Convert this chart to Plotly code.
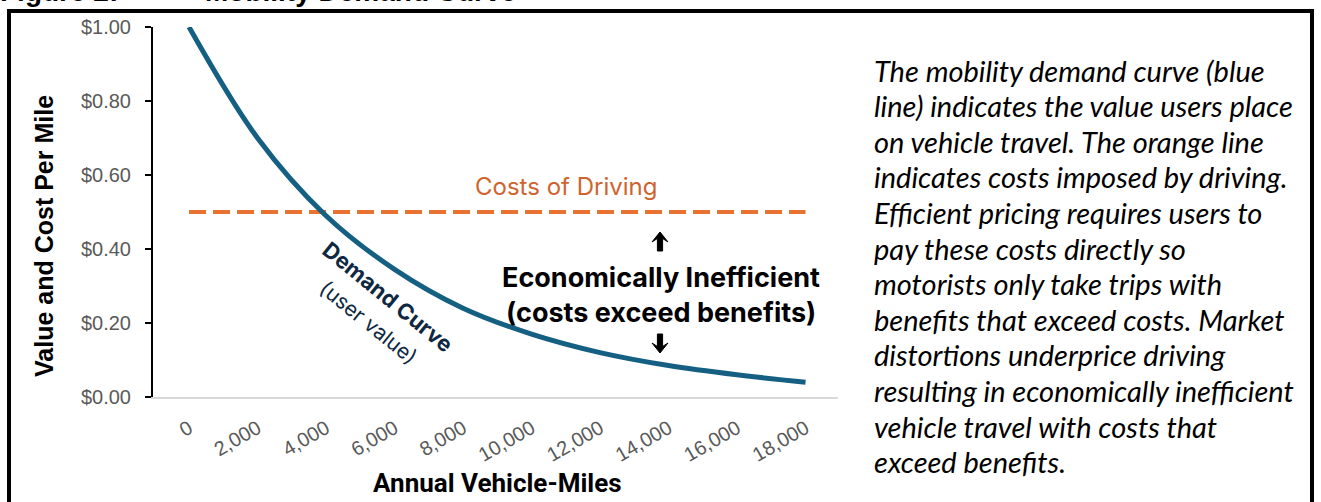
import plotly.graph_objects as go

# ---- data ----
miles = [0, 2000, 4000, 6000, 8000, 10000, 12000, 14000, 16000, 18000]
tick_labels = ["0", "2,000", "4,000", "6,000", "8,000", "10,000", "12,000", "14,000", "16,000", "18,000"]
demand_value = [1.00, 0.70, 0.49, 0.345, 0.24, 0.17, 0.12, 0.085, 0.06, 0.04]
driving_cost = [0.50, 0.50, 0.50, 0.50, 0.50, 0.50, 0.50, 0.50, 0.50, 0.50]
y_ticks = [0.0, 0.2, 0.4, 0.6, 0.8, 1.0]
y_tick_labels = ["$0.00", "$0.20", "$0.40", "$0.60", "$0.80", "$1.00"]
side_text = [
    "The mobility demand curve (blue",
    "line) indicates the value users place",
    "on vehicle travel. The orange line",
    "indicates costs imposed by driving.",
    "Efficient pricing requires users to",
    "pay these costs directly so",
    "motorists only take trips with",
    "benefits that exceed costs. Market",
    "distortions underprice driving",
    "resulting in economically inefficient",
    "vehicle travel with costs that",
    "exceed benefits.",
]

W, H = 1321, 502
L, R, T, B = 153, 483, 27, 105
PW, PH = W - L - R, H - T - B


def px(x):
    return (x - L) / PW


def py(y):
    return (H - B - y) / PH


def arrow_path(cx, tip, direction):
    # bold notched arrow; direction -1 = up, +1 = down
    d = direction
    pts = [(cx, tip), (cx + 8, tip - d * 10), (cx + 2.6, tip - d * 6.5),
           (cx + 2.6, tip - d * 19), (cx - 2.6, tip - d * 19),
           (cx - 2.6, tip - d * 6.5), (cx - 8, tip - d * 10)]
    s = "M " + " L ".join("%.5f,%.5f" % (px(a), py(b)) for a, b in pts) + " Z"
    return s


fig = go.Figure()
fig.add_trace(go.Scatter(
    x=miles, y=driving_cost, mode="lines",
    line=dict(color="#E97132", width=4, dash="17px,7px"),
    hoverinfo="skip", showlegend=False,
))
fig.add_trace(go.Scatter(
    x=miles, y=demand_value, mode="lines",
    line=dict(color="#156082", width=5, shape="spline", smoothing=1),
    hoverinfo="skip", showlegend=False,
))

ann = []
# cropped figure heading at the very top
ann.append(dict(text="<b>Figure 2:</b>", xref="paper", yref="paper", x=px(-2), y=py(-9),
                xanchor="left", yanchor="middle", showarrow=False,
                font=dict(family="Liberation Sans", size=28, color="black")))
ann.append(dict(text="<b>Mobility Demand Curve</b>", xref="paper", yref="paper", x=px(203), y=py(-9),
                xanchor="left", yanchor="middle", showarrow=False,
                font=dict(family="Liberation Sans", size=28, color="black")))
# axis titles
ann.append(dict(text="<b>Value and Cost Per Mile</b>", xref="paper", yref="paper", x=px(44), y=py(236),
                xanchor="center", yanchor="middle", textangle=-90, showarrow=False,
                font=dict(family="Liberation Sans", size=25, color="black")))
ann.append(dict(text="<b>Annual Vehicle-Miles</b>", xref="paper", yref="paper", x=px(497), y=py(483),
                xanchor="center", yanchor="middle", showarrow=False,
                font=dict(family="Roboto", size=26, color="black")))
# in-chart labels
ann.append(dict(text="Costs of Driving", xref="paper", yref="paper", x=px(566), y=py(186),
                xanchor="center", yanchor="middle", showarrow=False,
                font=dict(family="Inter", size=24, color="#CF6330")))
ann.append(dict(text="<b>Demand Curve</b>", xref="paper", yref="paper", x=px(388), y=py(297),
                xanchor="center", yanchor="middle", textangle=39, showarrow=False,
                font=dict(family="Inter", size=22, color="#0E2841")))
ann.append(dict(text="(user value)", xref="paper", yref="paper", x=px(369), y=py(322),
                xanchor="center", yanchor="middle", textangle=39, showarrow=False,
                font=dict(family="Inter", size=21, color="#0E2841")))
ann.append(dict(text="<b>Economically Inefficient</b>", xref="paper", yref="paper", x=px(661), y=py(277),
                xanchor="center", yanchor="middle", showarrow=False,
                font=dict(family="Inter", size=27, color="black")))
ann.append(dict(text="<b>(costs exceed benefits)</b>", xref="paper", yref="paper", x=px(661), y=py(312),
                xanchor="center", yanchor="middle", showarrow=False,
                font=dict(family="Inter", size=27, color="black")))
# side description
for i, line in enumerate(side_text):
    ann.append(dict(text="<i>" + line + "</i>", xref="paper", yref="paper", x=px(872), y=py(70 + 35.6 * i),
                    xanchor="left", yanchor="middle", showarrow=False,
                    font=dict(family="Lato", size=29, color="black")))

shapes = [
    dict(type="rect", xref="paper", yref="paper",
         x0=px(9), x1=px(1312), y0=py(520), y1=py(11),
         line=dict(color="black", width=4), fillcolor="rgba(0,0,0,0)", layer="above"),
    dict(type="path", xref="paper", yref="paper", path=arrow_path(660, 232, -1),
         fillcolor="black", line=dict(color="black", width=1)),
    dict(type="path", xref="paper", yref="paper", path=arrow_path(660, 353, 1),
         fillcolor="black", line=dict(color="black", width=1)),
]

fig.update_layout(
    width=W, height=H,
    margin=dict(l=L, r=R, t=T, b=B, pad=0),
    paper_bgcolor="white", plot_bgcolor="white",
    annotations=ann, shapes=shapes,
    xaxis=dict(range=[-1052, 18948], tickmode="array", tickvals=miles, ticktext=tick_labels,
               tickangle=-30, showgrid=False, zeroline=False, showline=True,
               linecolor="#D9D9D9", linewidth=2, ticks="",
               tickfont=dict(family="Liberation Sans", size=20, color="#595959"),
               ticklabelstandoff=10),
    yaxis=dict(range=[0, 1], tickmode="array", tickvals=y_ticks, ticktext=y_tick_labels,
               showgrid=False, zeroline=False, showline=True, linecolor="black", linewidth=2,
               ticks="outside", ticklen=6, tickwidth=2, tickcolor="black",
               tickfont=dict(family="Liberation Sans", size=20, color="#595959"),
               ticklabelstandoff=10),
)

fig.write_html("out.html", config={"displayModeBar": False},
               post_script="document.body.style.margin='0';")
